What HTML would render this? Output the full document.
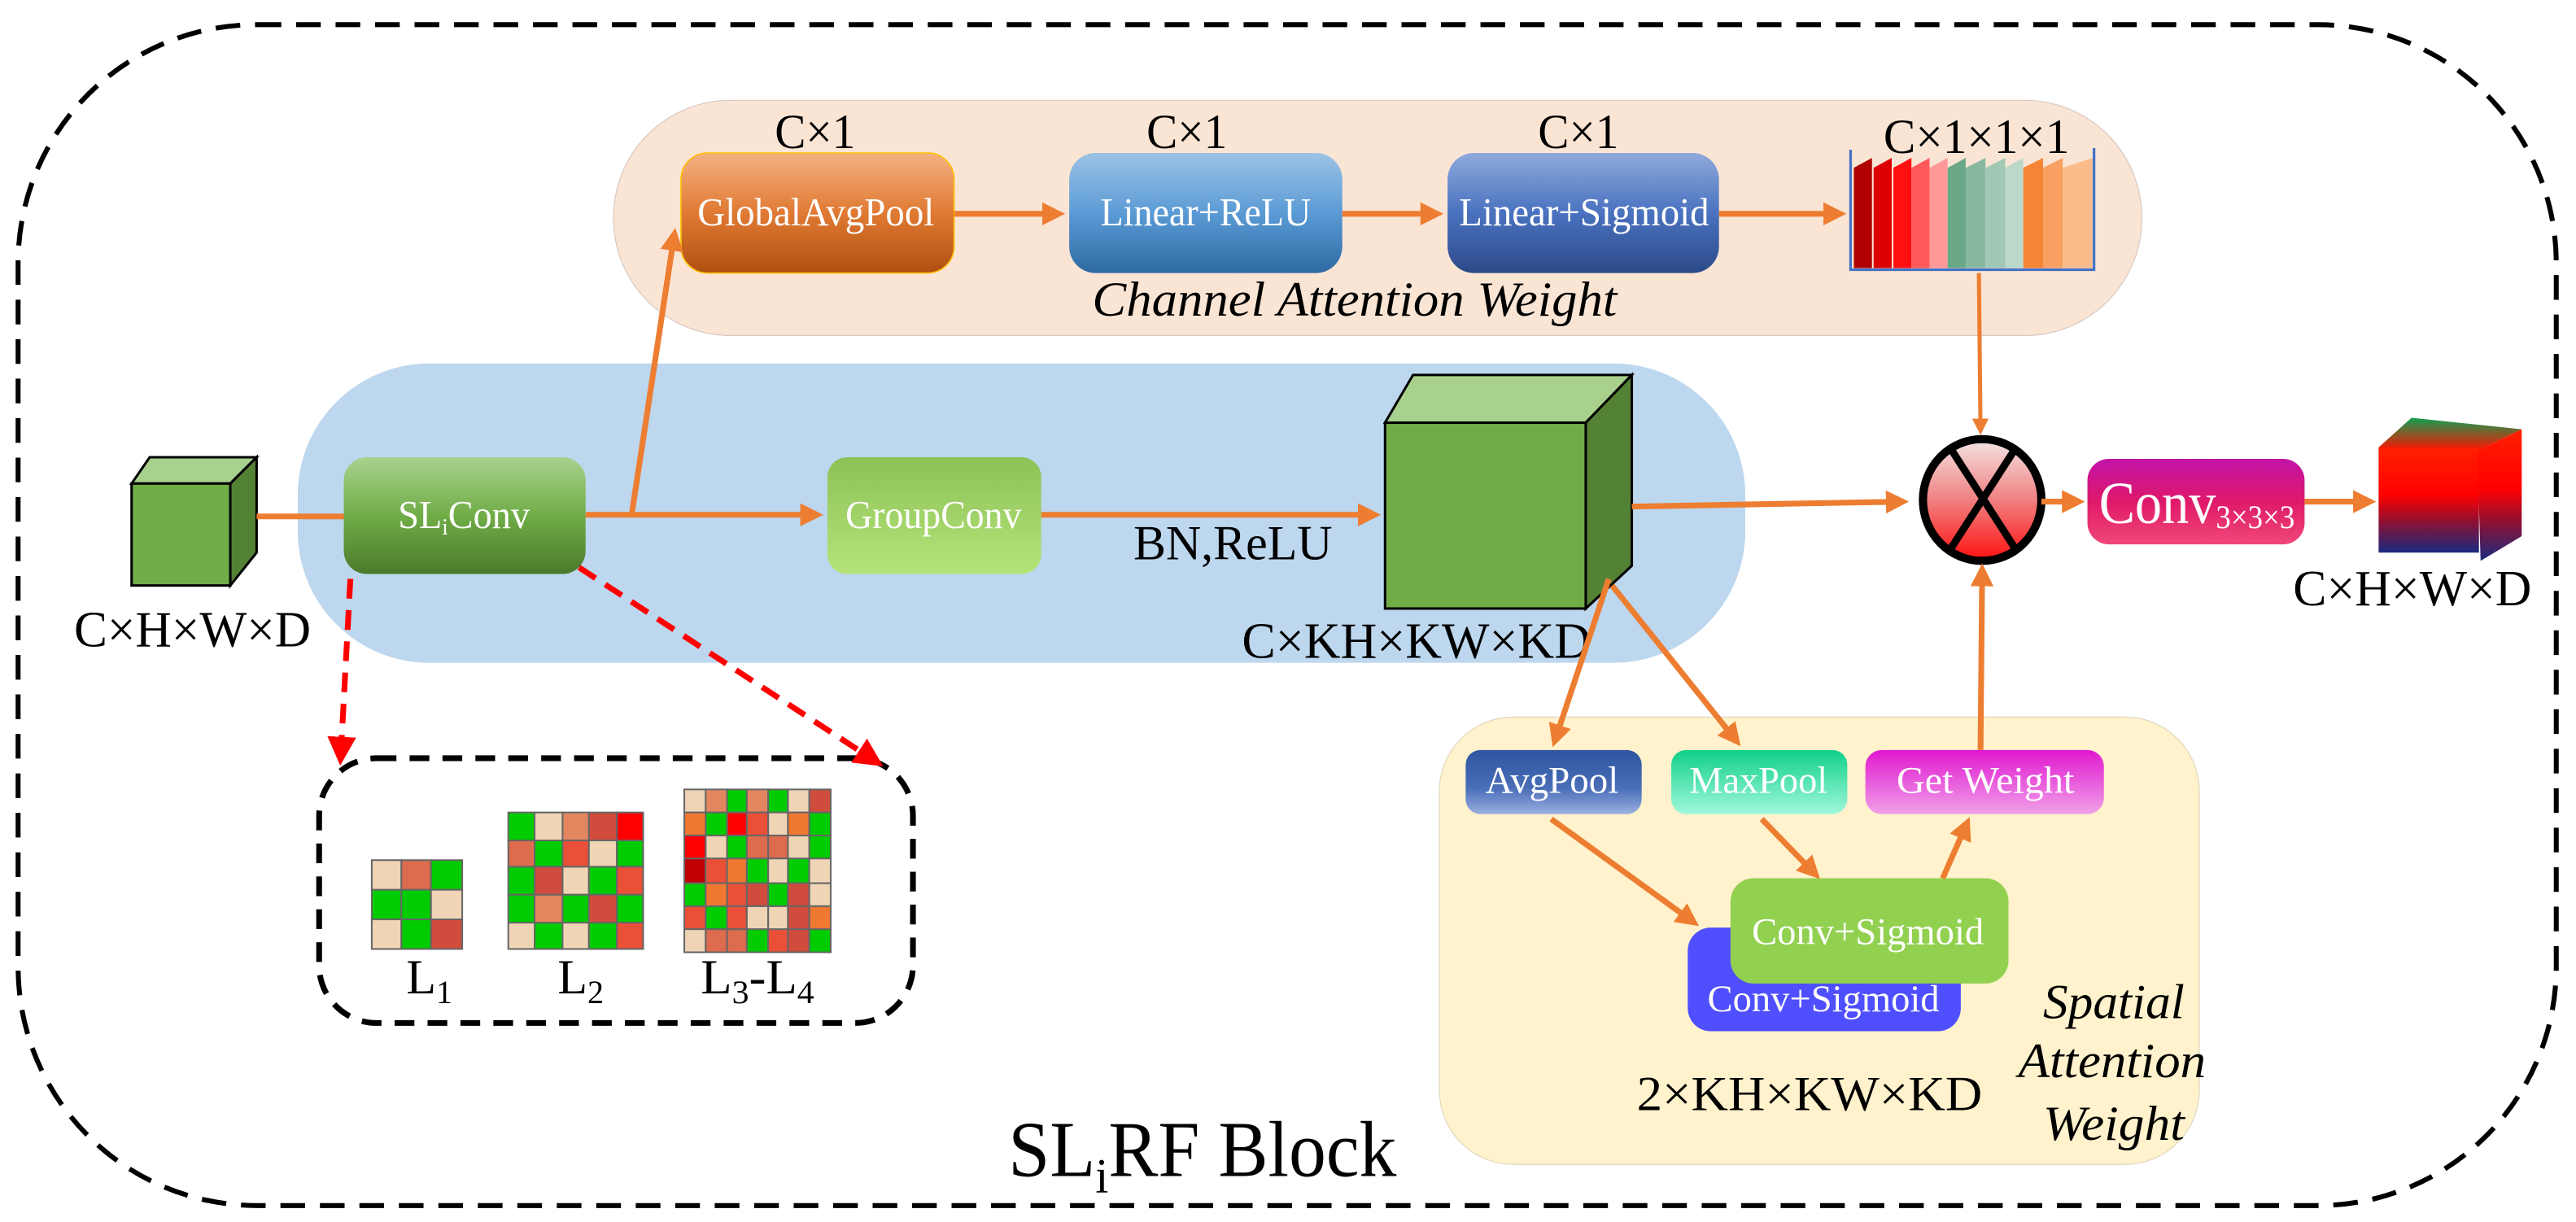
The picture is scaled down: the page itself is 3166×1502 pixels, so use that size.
<!DOCTYPE html>
<html><head><meta charset="utf-8"><style>
html,body{margin:0;padding:0;background:#fff;}
svg{display:block;}
text{font-family:"Liberation Serif",serif;}
</style></head><body>
<svg width="3166" height="1502" viewBox="0 0 1566 743" preserveAspectRatio="none" xmlns="http://www.w3.org/2000/svg">
<defs>
<marker id="ar" markerWidth="4" markerHeight="4" refX="3" refY="2" orient="auto" markerUnits="strokeWidth"><path d="M0,0 L4,2 L0,4 z" fill="#ed7d31"/></marker>
<marker id="rr" markerWidth="5" markerHeight="5" refX="4" refY="2.5" orient="auto" markerUnits="strokeWidth"><path d="M0,0 L5,2.5 L0,5 z" fill="#ff0000"/></marker>
<linearGradient id="gOr" x1="0" y1="0" x2="0" y2="1"><stop offset="0" stop-color="#f4b183"/><stop offset="0.5" stop-color="#e07a33"/><stop offset="1" stop-color="#b05010"/></linearGradient>
<linearGradient id="gBl" x1="0" y1="0" x2="0" y2="1"><stop offset="0" stop-color="#9dc3e6"/><stop offset="0.5" stop-color="#5b9bd5"/><stop offset="1" stop-color="#2e6aa4"/></linearGradient>
<linearGradient id="gBl2" x1="0" y1="0" x2="0" y2="1"><stop offset="0" stop-color="#8faadc"/><stop offset="0.5" stop-color="#4a72c0"/><stop offset="1" stop-color="#2c4a88"/></linearGradient>
<linearGradient id="gGr" x1="0" y1="0" x2="0" y2="1"><stop offset="0" stop-color="#a9d18e"/><stop offset="0.5" stop-color="#70ad47"/><stop offset="1" stop-color="#4a7a2c"/></linearGradient>
<linearGradient id="gLg" x1="0" y1="0" x2="0" y2="1"><stop offset="0" stop-color="#8cc257"/><stop offset="1" stop-color="#b5e37a"/></linearGradient>
<linearGradient id="gPk" x1="0" y1="0" x2="0" y2="1"><stop offset="0" stop-color="#c013a8"/><stop offset="0.5" stop-color="#e0186a"/><stop offset="1" stop-color="#f04878"/></linearGradient>
<linearGradient id="gCi" x1="0" y1="0" x2="0" y2="1"><stop offset="0" stop-color="#f4e4e4"/><stop offset="0.5" stop-color="#f08080"/><stop offset="1" stop-color="#ff1010"/></linearGradient>
<linearGradient id="gAv" x1="0" y1="0" x2="0" y2="1"><stop offset="0" stop-color="#2f55a0"/><stop offset="0.6" stop-color="#4a6eb8"/><stop offset="1" stop-color="#9ab0e0"/></linearGradient>
<linearGradient id="gMx" x1="0" y1="0" x2="0" y2="1"><stop offset="0" stop-color="#10d088"/><stop offset="1" stop-color="#a0f8dc"/></linearGradient>
<linearGradient id="gGw" x1="0" y1="0" x2="0" y2="1"><stop offset="0" stop-color="#e018d0"/><stop offset="1" stop-color="#f0a0e8"/></linearGradient>
<linearGradient id="gOc" x1="0" y1="0" x2="0" y2="1"><stop offset="0" stop-color="#ff2000"/><stop offset="0.45" stop-color="#ff0000"/><stop offset="0.7" stop-color="#901030"/><stop offset="1" stop-color="#1a2a80"/></linearGradient>
<linearGradient id="gOt" x1="0" y1="0" x2="0" y2="1"><stop offset="0" stop-color="#10a050"/><stop offset="1" stop-color="#ff1000"/></linearGradient>
</defs>

<rect x="11" y="15" width="1543" height="718" rx="145" ry="145" fill="none" stroke="#000" stroke-width="3" stroke-dasharray="15,9"/>

<rect x="373" y="61" width="929" height="143" rx="71" ry="71" fill="#fae5d5" stroke="#d8c8c0" stroke-width="0.6"/>
<rect x="181" y="221" width="880" height="182" rx="80" ry="80" fill="#bdd7ee"/>
<rect x="875" y="436" width="462" height="272" rx="45" ry="45" fill="#fff2cc" stroke="#e0d8c0" stroke-width="0.6"/>

<rect x="414" y="93" width="166" height="73" rx="16" fill="url(#gOr)" stroke="#ffc000" stroke-width="0.8"/>
<text x="424" y="137" font-size="24" fill="#fff" textLength="144" lengthAdjust="spacingAndGlyphs">GlobalAvgPool</text>
<rect x="650" y="93" width="166" height="73" rx="16" fill="url(#gBl)"/>
<text x="669" y="137" font-size="24" fill="#fff" textLength="128" lengthAdjust="spacingAndGlyphs">Linear+ReLU</text>
<rect x="880" y="93" width="165" height="73" rx="16" fill="url(#gBl2)"/>
<text x="887" y="137" font-size="24" fill="#fff" textLength="152" lengthAdjust="spacingAndGlyphs">Linear+Sigmoid</text>
<text x="471" y="90" font-size="30" textLength="49" lengthAdjust="spacingAndGlyphs">C×1</text>
<text x="697" y="90" font-size="30" textLength="49" lengthAdjust="spacingAndGlyphs">C×1</text>
<text x="935" y="90" font-size="30" textLength="49" lengthAdjust="spacingAndGlyphs">C×1</text>
<text x="1145" y="93" font-size="30" textLength="113" lengthAdjust="spacingAndGlyphs">C×1×1×1</text>
<text x="664" y="192" font-size="30" font-style="italic" textLength="319" lengthAdjust="spacingAndGlyphs">Channel Attention Weight</text>

<g>
<polygon points="1127,102 1138,96 1138,163 1127,163" fill="#b00000"/>
<polygon points="1139,102 1150,96 1150,163 1139,163" fill="#dc0000"/>
<polygon points="1151,102 1162,96 1162,163 1151,163" fill="#ff1010"/>
<polygon points="1162,102 1173,96 1173,163 1162,163" fill="#ff5a5a"/>
<polygon points="1173,102 1184,96 1184,163 1173,163" fill="#ff9898"/>
<polygon points="1184,102 1195,96 1195,163 1184,163" fill="#6aa888"/>
<polygon points="1195,102 1207,96 1207,163 1195,163" fill="#88b8a0"/>
<polygon points="1207,102 1219,96 1219,163 1207,163" fill="#a0c8b5"/>
<polygon points="1219,102 1230,96 1230,163 1219,163" fill="#bcd8c8"/>
<polygon points="1230,102 1242,96 1242,163 1230,163" fill="#f58535"/>
<polygon points="1242,102 1254,96 1254,163 1242,163" fill="#f9a062"/>
<polygon points="1254,102 1272,96 1272,163 1254,163" fill="#fbbc8c"/>
<path d="M1125,91 V164 H1273 V90" fill="none" stroke="#4472c4" stroke-width="1.6"/>
</g>

<polygon points="80,294 91,278 156,278 140,294" fill="#a9d18e" stroke="#000" stroke-width="1.5"/>
<polygon points="140,294 156,278 156,336 140,356" fill="#548235" stroke="#000" stroke-width="1.5"/>
<rect x="80" y="294" width="60" height="62" fill="#70ad47" stroke="#000" stroke-width="1.5"/>
<text x="45" y="393" font-size="31" textLength="144" lengthAdjust="spacingAndGlyphs">C×H×W×D</text>

<rect x="209" y="278" width="147" height="71" rx="14" fill="url(#gGr)"/>
<text x="242" y="321" font-size="24" fill="#fff" textLength="80" lengthAdjust="spacingAndGlyphs">SL<tspan font-size="14" dy="4">i</tspan><tspan dy="-4">Conv</tspan></text>
<rect x="503" y="278" width="130" height="71" rx="12" fill="url(#gLg)"/>
<text x="514" y="321" font-size="24" fill="#fff" textLength="107" lengthAdjust="spacingAndGlyphs">GroupConv</text>
<text x="689" y="340" font-size="30" textLength="121" lengthAdjust="spacingAndGlyphs">BN,ReLU</text>

<polygon points="842,257 859,228 992,228 964,257" fill="#a9d18e" stroke="#000" stroke-width="1.5"/>
<polygon points="964,257 992,228 992,344 964,370" fill="#548235" stroke="#000" stroke-width="1.5"/>
<rect x="842" y="257" width="122" height="113" fill="#70ad47" stroke="#000" stroke-width="1.5"/>
<text x="755" y="400" font-size="31" textLength="212" lengthAdjust="spacingAndGlyphs">C×KH×KW×KD</text>

<ellipse cx="1205" cy="304" rx="36" ry="37" fill="url(#gCi)" stroke="#000" stroke-width="5"/>
<line x1="1186" y1="273" x2="1226" y2="335" stroke="#000" stroke-width="4.5"/>
<line x1="1225" y1="273" x2="1185" y2="335" stroke="#000" stroke-width="4.5"/>

<rect x="1269" y="279" width="132" height="52" rx="13" fill="url(#gPk)"/>
<text x="1276" y="318" font-size="36" fill="#fff" textLength="119" lengthAdjust="spacingAndGlyphs">Conv<tspan font-size="20" dy="3">3×3×3</tspan></text>

<polygon points="1446,272 1466,254 1533,261 1506,274" fill="url(#gOt)"/>
<rect x="1446" y="272" width="61" height="64" fill="url(#gOc)"/>
<polygon points="1506,274 1533,261 1533,326 1508,341" fill="url(#gOc)"/>
<text x="1394" y="368" font-size="31" textLength="145" lengthAdjust="spacingAndGlyphs">C×H×W×D</text>

<rect x="891" y="456" width="107" height="39" rx="9" fill="url(#gAv)"/>
<text x="903" y="482" font-size="23" fill="#fff" textLength="81" lengthAdjust="spacingAndGlyphs">AvgPool</text>
<rect x="1016" y="456" width="107" height="39" rx="9" fill="url(#gMx)"/>
<text x="1027" y="482" font-size="23" fill="#fff" textLength="84" lengthAdjust="spacingAndGlyphs">MaxPool</text>
<rect x="1134" y="456" width="145" height="39" rx="10" fill="url(#gGw)"/>
<text x="1153" y="482" font-size="23" fill="#fff" textLength="108" lengthAdjust="spacingAndGlyphs">Get Weight</text>
<rect x="1026" y="564" width="166" height="63" rx="14" fill="#4f4fff"/>
<text x="1038" y="615" font-size="23" fill="#fff" textLength="141" lengthAdjust="spacingAndGlyphs">Conv+Sigmoid</text>
<rect x="1052" y="534" width="169" height="64" rx="14" fill="#92d050"/>
<text x="1065" y="574" font-size="23" fill="#fff" textLength="141" lengthAdjust="spacingAndGlyphs">Conv+Sigmoid</text>
<text x="995" y="675" font-size="30" textLength="210" lengthAdjust="spacingAndGlyphs">2×KH×KW×KD</text>
<text x="1242" y="619" font-size="30" font-style="italic" textLength="86" lengthAdjust="spacingAndGlyphs">Spatial</text>
<text x="1227" y="655" font-size="30" font-style="italic" textLength="114" lengthAdjust="spacingAndGlyphs">Attention</text>
<text x="1242" y="693" font-size="30" font-style="italic" textLength="86" lengthAdjust="spacingAndGlyphs">Weight</text>

<rect x="194" y="461" width="361" height="161" rx="35" fill="none" stroke="#000" stroke-width="3.5" stroke-dasharray="12,8"/>

<g stroke="#666" stroke-width="1">
<rect x="226" y="523" width="18" height="18" fill="#efd5b5"/><rect x="244" y="523" width="18" height="18" fill="#dd6b4d"/><rect x="262" y="523" width="19" height="18" fill="#00cc00"/>
<rect x="226" y="541" width="18" height="18" fill="#00cc00"/><rect x="244" y="541" width="18" height="18" fill="#00cc00"/><rect x="262" y="541" width="19" height="18" fill="#efd5b5"/>
<rect x="226" y="559" width="18" height="18" fill="#efd5b5"/><rect x="244" y="559" width="18" height="18" fill="#00cc00"/><rect x="262" y="559" width="19" height="18" fill="#d04c3c"/>

<rect x="309" y="494" width="16" height="17" fill="#00cc00"/><rect x="325" y="494" width="17" height="17" fill="#efd5b5"/><rect x="342" y="494" width="16" height="17" fill="#e38660"/><rect x="358" y="494" width="17" height="17" fill="#d04c3c"/><rect x="375" y="494" width="16" height="17" fill="#ff0000"/>
<rect x="309" y="511" width="16" height="16" fill="#dd6b4d"/><rect x="325" y="511" width="17" height="16" fill="#00cc00"/><rect x="342" y="511" width="16" height="16" fill="#ea5038"/><rect x="358" y="511" width="17" height="16" fill="#efd5b5"/><rect x="375" y="511" width="16" height="16" fill="#00cc00"/>
<rect x="309" y="527" width="16" height="17" fill="#00cc00"/><rect x="325" y="527" width="17" height="17" fill="#d04c3c"/><rect x="342" y="527" width="16" height="17" fill="#efd5b5"/><rect x="358" y="527" width="17" height="17" fill="#00cc00"/><rect x="375" y="527" width="16" height="17" fill="#ea5038"/>
<rect x="309" y="544" width="16" height="17" fill="#00cc00"/><rect x="325" y="544" width="17" height="17" fill="#e38660"/><rect x="342" y="544" width="16" height="17" fill="#00cc00"/><rect x="358" y="544" width="17" height="17" fill="#d04c3c"/><rect x="375" y="544" width="16" height="17" fill="#00cc00"/>
<rect x="309" y="561" width="16" height="16" fill="#efd5b5"/><rect x="325" y="561" width="17" height="16" fill="#00cc00"/><rect x="342" y="561" width="16" height="16" fill="#efd5b5"/><rect x="358" y="561" width="17" height="16" fill="#00cc00"/><rect x="375" y="561" width="16" height="16" fill="#ea5038"/>

<rect x="416" y="480" width="13" height="14" fill="#efd5b5"/><rect x="429" y="480" width="13" height="14" fill="#e38660"/><rect x="442" y="480" width="12" height="14" fill="#00cc00"/><rect x="454" y="480" width="13" height="14" fill="#e38660"/><rect x="467" y="480" width="12" height="14" fill="#00cc00"/><rect x="479" y="480" width="13" height="14" fill="#efd5b5"/><rect x="492" y="480" width="13" height="14" fill="#d04c3c"/>
<rect x="416" y="494" width="13" height="14" fill="#f07830"/><rect x="429" y="494" width="13" height="14" fill="#00cc00"/><rect x="442" y="494" width="12" height="14" fill="#ff0000"/><rect x="454" y="494" width="13" height="14" fill="#ea5038"/><rect x="467" y="494" width="12" height="14" fill="#efd5b5"/><rect x="479" y="494" width="13" height="14" fill="#f07830"/><rect x="492" y="494" width="13" height="14" fill="#00cc00"/>
<rect x="416" y="508" width="13" height="14" fill="#ff0000"/><rect x="429" y="508" width="13" height="14" fill="#efd5b5"/><rect x="442" y="508" width="12" height="14" fill="#00cc00"/><rect x="454" y="508" width="13" height="14" fill="#dd6b4d"/><rect x="467" y="508" width="12" height="14" fill="#dd6b4d"/><rect x="479" y="508" width="13" height="14" fill="#efd5b5"/><rect x="492" y="508" width="13" height="14" fill="#00cc00"/>
<rect x="416" y="522" width="13" height="15" fill="#c00000"/><rect x="429" y="522" width="13" height="15" fill="#ea5038"/><rect x="442" y="522" width="12" height="15" fill="#f07830"/><rect x="454" y="522" width="13" height="15" fill="#00cc00"/><rect x="467" y="522" width="12" height="15" fill="#efd5b5"/><rect x="479" y="522" width="13" height="15" fill="#00cc00"/><rect x="492" y="522" width="13" height="15" fill="#efd5b5"/>
<rect x="416" y="537" width="13" height="14" fill="#00cc00"/><rect x="429" y="537" width="13" height="14" fill="#f07830"/><rect x="442" y="537" width="12" height="14" fill="#ea5038"/><rect x="454" y="537" width="13" height="14" fill="#d04c3c"/><rect x="467" y="537" width="12" height="14" fill="#00cc00"/><rect x="479" y="537" width="13" height="14" fill="#d04c3c"/><rect x="492" y="537" width="13" height="14" fill="#efd5b5"/>
<rect x="416" y="551" width="13" height="14" fill="#ea5038"/><rect x="429" y="551" width="13" height="14" fill="#00cc00"/><rect x="442" y="551" width="12" height="14" fill="#ea5038"/><rect x="454" y="551" width="13" height="14" fill="#efd5b5"/><rect x="467" y="551" width="12" height="14" fill="#efd5b5"/><rect x="479" y="551" width="13" height="14" fill="#d04c3c"/><rect x="492" y="551" width="13" height="14" fill="#f07830"/>
<rect x="416" y="565" width="13" height="14" fill="#efd5b5"/><rect x="429" y="565" width="13" height="14" fill="#dd6b4d"/><rect x="442" y="565" width="12" height="14" fill="#dd6b4d"/><rect x="454" y="565" width="13" height="14" fill="#00cc00"/><rect x="467" y="565" width="12" height="14" fill="#ea5038"/><rect x="479" y="565" width="13" height="14" fill="#d04c3c"/><rect x="492" y="565" width="13" height="14" fill="#00cc00"/>
</g>
<text x="247" y="604" font-size="30" textLength="28" lengthAdjust="spacingAndGlyphs">L<tspan font-size="20" dy="6">1</tspan></text>
<text x="339" y="604" font-size="30" textLength="28" lengthAdjust="spacingAndGlyphs">L<tspan font-size="20" dy="6">2</tspan></text>
<text x="426" y="604" font-size="30" textLength="69" lengthAdjust="spacingAndGlyphs">L<tspan font-size="20" dy="6">3</tspan><tspan dy="-6">-L</tspan><tspan font-size="20" dy="6">4</tspan></text>

<text x="613" y="715" font-size="48" textLength="236" lengthAdjust="spacingAndGlyphs">SL<tspan font-size="30" dy="10">i</tspan><tspan dy="-10">RF Block</tspan></text>

<line x1="213" y1="352" x2="207" y2="462" stroke="#ff0000" stroke-width="3.5" stroke-dasharray="12,7" marker-end="url(#rr)"/>
<line x1="352" y1="345" x2="534" y2="464" stroke="#ff0000" stroke-width="3.5" stroke-dasharray="12,7" marker-end="url(#rr)"/>

<g stroke="#ed7d31" stroke-width="3.5" fill="none">
<line x1="156" y1="314" x2="209" y2="314"/>
<line x1="356" y1="313" x2="497" y2="313" marker-end="url(#ar)"/>
<line x1="384" y1="313" x2="410" y2="142" marker-end="url(#ar)"/>
<line x1="580" y1="130" x2="644" y2="130" marker-end="url(#ar)"/>
<line x1="816" y1="130" x2="874" y2="130" marker-end="url(#ar)"/>
<line x1="1045" y1="130" x2="1119" y2="130" marker-end="url(#ar)"/>
<line x1="633" y1="313" x2="836" y2="313" marker-end="url(#ar)"/>
<line x1="992" y1="308" x2="1157" y2="305" marker-end="url(#ar)"/>
<line x1="1203" y1="166" x2="1204" y2="262" stroke-width="2.5" marker-end="url(#ar)"/>
<line x1="1241" y1="305" x2="1264" y2="305" marker-end="url(#ar)"/>
<line x1="1401" y1="305" x2="1441" y2="305" marker-end="url(#ar)"/>
<line x1="978" y1="352" x2="945" y2="451" marker-end="url(#ar)"/>
<line x1="980" y1="356" x2="1056" y2="451" marker-end="url(#ar)"/>
<line x1="1204" y1="456" x2="1205" y2="346" marker-end="url(#ar)"/>
<line x1="943" y1="498" x2="1030" y2="561" marker-end="url(#ar)"/>
<line x1="1071" y1="498" x2="1104" y2="532" marker-end="url(#ar)"/>
<line x1="1181" y1="534" x2="1196" y2="500" marker-end="url(#ar)"/>
</g>
</svg>
</body></html>
